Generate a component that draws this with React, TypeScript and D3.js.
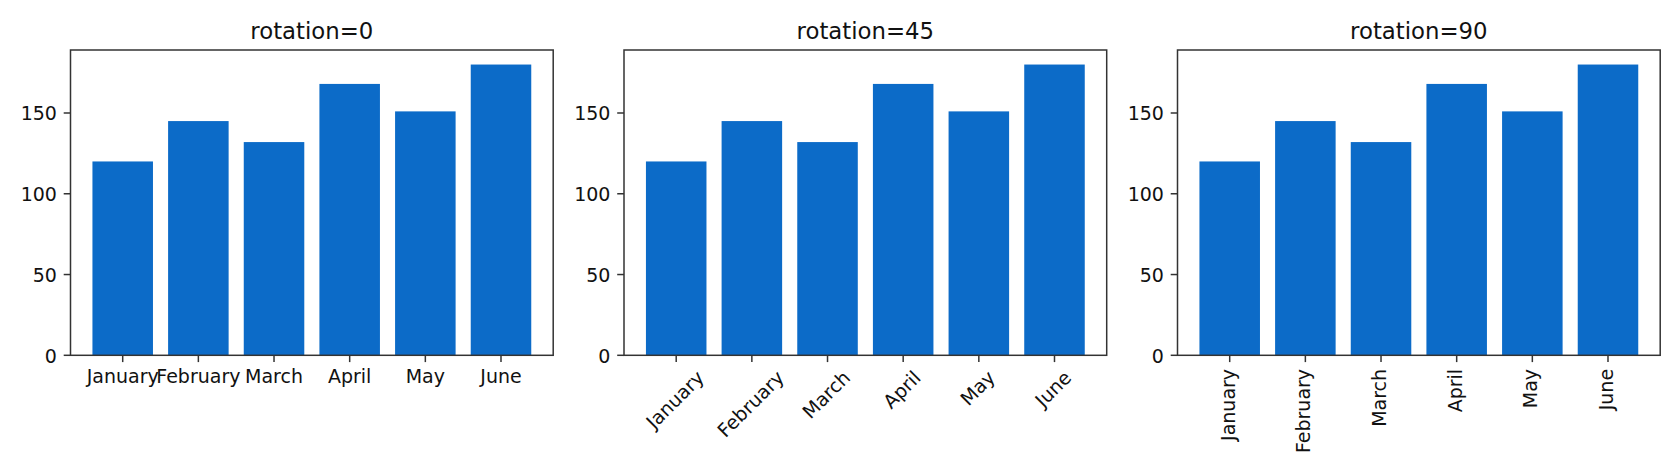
import * as d3 from "d3";
import React, { useEffect, useRef } from "react";

const months = ["January", "February", "March", "April", "May", "June"];
const sales = [120, 145, 132, 168, 151, 180];
const rotations = [0, 45, 90];
const yTicks = [0, 50, 100, 150];

const W = 1680;
const H = 476;
const panelLefts = [70.5, 624, 1177.5];
const panelWidth = 482.7;
const top = 50;
const bottom = 355.3;
const barColor = "#0c6bc8";
const spine = "#333333";
const tickFont = 19;
const titleFont = 22.8;
const tickLen = 6.8;
const pad = 6.8;

const App: React.FC = () => {
  const ref = useRef<SVGSVGElement | null>(null);

  useEffect(() => {
    const svg = d3.select(ref.current);
    svg.selectAll("*").remove();

    // categorical x like matplotlib: bars at 0..5, width 0.8, 5% margins
    const x = d3.scaleLinear().domain([-0.69, 5.69]).range([0, panelWidth]);
    const y = d3.scaleLinear().domain([0, 189]).range([bottom, top]);

    rotations.forEach((rot, pi) => {
      const g = svg
        .append("g")
        .attr("transform", `translate(${panelLefts[pi]},0)`);

      g.selectAll("rect.bar")
        .data(sales)
        .enter()
        .append("rect")
        .attr("class", "bar")
        .attr("x", (_d, i) => x(i - 0.4))
        .attr("width", x(0.4) - x(-0.4))
        .attr("y", (d) => y(d))
        .attr("height", (d) => y(0) - y(d))
        .attr("fill", barColor);

      // frame
      g.append("rect")
        .attr("x", 0)
        .attr("y", top)
        .attr("width", panelWidth)
        .attr("height", bottom - top)
        .attr("fill", "none")
        .attr("stroke", spine)
        .attr("stroke-width", 1.5);

      // y ticks
      yTicks.forEach((t) => {
        g.append("line")
          .attr("x1", -tickLen)
          .attr("x2", 0)
          .attr("y1", y(t))
          .attr("y2", y(t))
          .attr("stroke", spine)
          .attr("stroke-width", 1.5);
        g.append("text")
          .attr("x", -tickLen - pad)
          .attr("y", y(t) + 0.38 * tickFont)
          .attr("text-anchor", "end")
          .attr("font-family", "DejaVu Sans")
          .attr("font-size", tickFont)
          .attr("fill", "#111")
          .text(t);
      });

      // x ticks and rotated labels
      months.forEach((m, i) => {
        const tx = x(i);
        g.append("line")
          .attr("x1", tx)
          .attr("x2", tx)
          .attr("y1", bottom)
          .attr("y2", bottom + tickLen)
          .attr("stroke", spine)
          .attr("stroke-width", 1.5);
        const label = g
          .append("text")
          .attr("x", 0)
          .attr("y", 0.26 * tickFont)
          .attr("text-anchor", "middle")
          .attr("font-family", "DejaVu Sans")
          .attr("font-size", tickFont)
          .attr("fill", "#111")
          .text(m);
        const w = (label.node() as SVGTextElement).getComputedTextLength();
        const h = 0.97 * tickFont;
        const a = (rot * Math.PI) / 180;
        const bboxH = w * Math.sin(a) + h * Math.cos(a);
        const cy = bottom + tickLen + pad + bboxH / 2;
        label.attr("transform", `translate(${tx},${cy}) rotate(${-rot})`);
      });

      g.append("text")
        .attr("x", panelWidth / 2)
        .attr("y", 38.5)
        .attr("text-anchor", "middle")
        .attr("font-family", "DejaVu Sans")
        .attr("font-size", titleFont)
        .attr("fill", "#111")
        .text(`rotation=${rot}`);
    });
  }, []);

  return (
    <svg
      ref={ref}
      width={W}
      height={H}
      style={{ position: "absolute", left: 0, top: 0, background: "#fff" }}
    ></svg>
  );
};

export default App;
